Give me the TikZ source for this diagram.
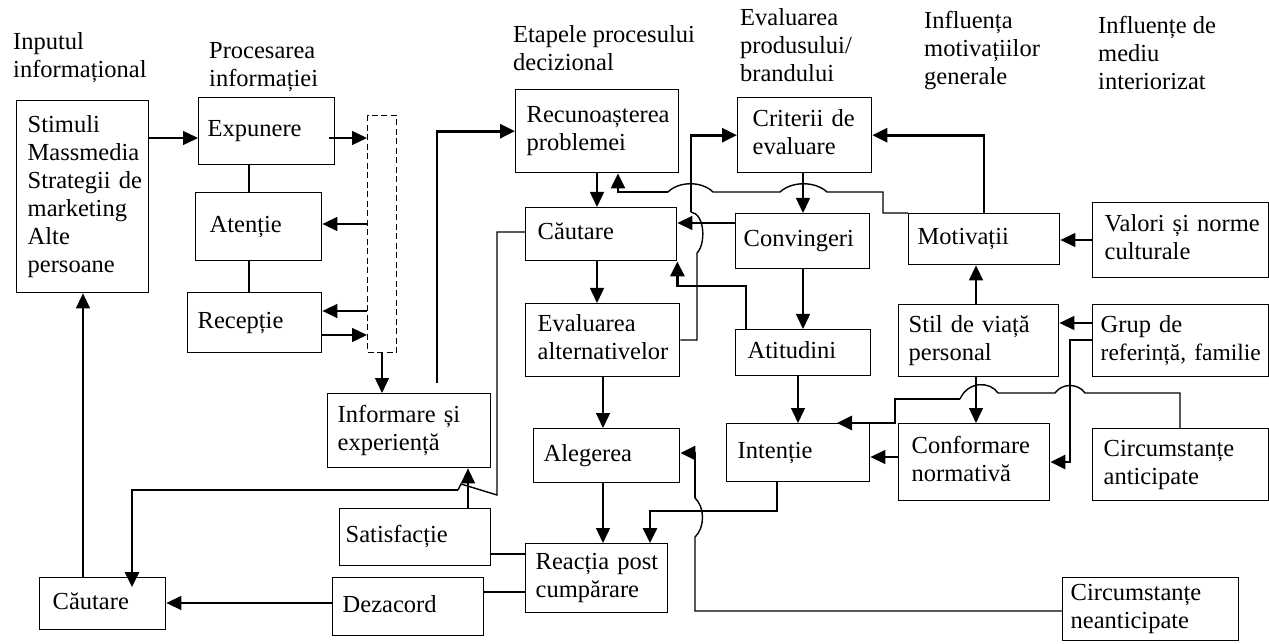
\documentclass[tikz,border=0pt]{standalone}
\usepackage{fontspec}
\setmainfont{Liberation Serif}
\usetikzlibrary{arrows.meta,calc}

% box: name, x1, y1, x2, y2 (pixel grid, y downwards), left padding, text
\newcommand\mkbox[7]{%
  \pgfmathsetmacro\bxw{#4-#2}%
  \pgfmathsetmacro\bxh{#5-#3}%
  \pgfmathsetmacro\bxt{#4-#2-2*#6}%
  \node[box, minimum width=\bxw pt, minimum height=\bxh pt,
        text width=\bxt pt, inner xsep=#6pt] (#1) at (#2,#3) {\strut#7\strut};%
}

\begin{document}
\begin{tikzpicture}[x=1pt,y=-1pt,
  every node/.style={font=\fontsize{24.5}{28}\selectfont},
  box/.style={draw, line width=1.4pt, anchor=north west, align=left, inner ysep=0pt},
  hd/.style={anchor=north west, inner sep=0pt, align=left},
  ln/.style={line width=1.4pt},
  tk/.style={line width=2.9pt},
  arr/.style={-{Triangle[length=15pt,width=14pt]}}]
\useasboundingbox (0,0) rectangle (1269,644);

% column headings
\node[hd] (h1) at (13,29.4)   {\strut Inputul\\informațional};
\node[hd] (h2) at (209,38.4)  {\strut Procesarea\\informației};
\node[hd] (h3) at (513,22.4)  {\strut Etapele~procesului\\decizional};
\node[hd] (h4) at (740,5.4)   {\strut Evaluarea\\produsului/\\brandului};
\node[hd] (h5) at (924,8.4)   {\strut Influența\\motivațiilor\\generale};
\node[hd] (h6) at (1098,13.4) {\strut Influențe~de\\mediu\\interiorizat};

% informational input and processing
\mkbox{stim}{16}{100}{148}{292}{11}{Stimuli\\Massmedia\\Strategii~de\\marketing\\Alte\\persoane}
\mkbox{expu}{198}{97}{334}{164}{9}{Expunere}
\mkbox{aten}{195}{192}{321}{260}{14}{Atenție}
\mkbox{rece}{187}{292}{321}{352}{10}{Recepție}
\node[draw, dash pattern=on 6pt off 3.5pt, line width=1.3pt, anchor=north west,
      minimum width=29pt, minimum height=237pt, inner sep=0pt] (buf) at (367,115) {};
\mkbox{info}{327}{393}{490}{467}{10}{Informare~și\\experiență}
\mkbox{satis}{339}{508}{490}{565}{6}{Satisfacție}
\mkbox{deza}{332}{577}{483}{635}{10}{Dezacord}
\mkbox{caut2}{39}{577}{165}{629}{13}{Căutare}

% decision process stages
\mkbox{recu}{515}{89}{678}{172}{11}{Recunoașterea\\problemei}
\mkbox{caut}{525}{207}{676}{260}{12}{Căutare}
\mkbox{eval}{525}{303}{679}{376}{12}{Evaluarea\\alternativelor}
\mkbox{aleg}{533}{428}{679}{482}{10}{Alegerea}
\mkbox{reac}{525}{543}{667}{612}{10}{Reacția~post\\cumpărare}

% product / brand evaluation
\mkbox{crit}{737}{97}{871}{172}{15}{Criterii~de\\evaluare}
\mkbox{conv}{735}{213}{869}{268}{8}{Convingeri}
\mkbox{atit}{735}{329}{870}{375}{12}{Atitudini}
\mkbox{inte}{726}{423}{869}{481}{11}{Intenție}

% motivation and internalised environment
\mkbox{moti}{908}{213}{1059}{264}{9}{Motivații}
\mkbox{valo}{1092}{202}{1268}{277}{12}{Valori~și~norme\\culturale}
\mkbox{stil}{898}{304}{1058}{376}{10}{Stil~de~viață\\personal}
\mkbox{grup}{1092}{304}{1268}{376}{8}{Grup~de\\{\fontsize{23.5}{28}\selectfont referință,~familie}}
\mkbox{conf}{898}{423}{1049}{500}{13}{Conformare\\normativă}
\mkbox{cira}{1092}{428}{1268}{500}{11}{Circumstanțe\\anticipate}
\mkbox{cirn}{1062}{577}{1238}{640}{8}{Circumstanțe\\neanticipate}

% information processing links
\draw[ln,arr] (stim.east |- 0,138) -- (expu.west |- 0,138);
\draw[ln,arr] ($(expu.east |- 0,138)+(-6,0)$) -- (buf.west |- 0,138);
\draw[ln,arr] (buf.west |- 0,224) -- (aten.east |- 0,224);
\draw[ln,arr] (buf.west |- 0,311) -- (rece.east |- 0,311);
\draw[ln,arr] (rece.east |- 0,335) -- (buf.west |- 0,335);
\draw[ln] (249,0 |- expu.south) -- (249,0 |- aten.north);
\draw[ln] (249,0 |- aten.south) -- (249,0 |- rece.north);
\draw[ln,arr] (382,0 |- buf.south) -- (382,0 |- info.north);
\draw[tk,arr] ($(437,0 |- info.north)+(0,-10)$) |- (recu.west);

% decision stages
\draw[ln,arr] (597,0 |- recu.south) -- (597,0 |- caut.north);
\draw[ln,arr] (597,0 |- caut.south) -- (597,0 |- eval.north);
\draw[ln,arr] (603,0 |- eval.south) -- (603,0 |- aleg.north);
\draw[ln,arr] (603,0 |- aleg.south) -- (603,0 |- reac.north);

% post-purchase outcomes
\draw[ln] (reac.west |- 0,554) -- (satis.east |- 0,554);
\draw[ln] (reac.west |- 0,592) -- (deza.east |- 0,592);
\draw[ln,arr] (468,0 |- satis.north) -- (468,0 |- info.south);
\draw[ln,arr] (deza.west |- 0,603) -- (caut2.east |- 0,603);
\draw[ln,arr] (83,0 |- caut2.north) -- (83,0 |- stim.south);
\coordinate (jn) at (458,490);
\draw[ln] (caut.west |- 0,232) -| (497,495) -- (461,484) -- (jn);
\draw[tk,arr] (jn) -| ($(132,0 |- caut2.north)+(0,10)$);

% beliefs, attitudes, intention
\draw[ln,arr] (803,0 |- crit.south) -- (803,0 |- conv.north);
\draw[ln,arr] (803,0 |- conv.south) -- (803,0 |- atit.north);
\draw[ln,arr] (798,0 |- atit.south) -- (798,0 |- inte.north);
\draw[ln,arr] (conv.west |- 0,223) -- (caut.east |- 0,223);
\draw[tk,arr] (746,0 |- atit.north) -- (746,286) -| (caut.south east);

% alternatives evaluation feeding the criteria
\coordinate (ej) at (691,212);
\draw[ln] (eval.east |- 0,340) -| (697,253) .. controls (706,244) and (705,214) .. (ej);
\draw[tk,arr] (ej) |- (crit.west);

% motivation
\draw[tk,arr] (984,0 |- moti.north) |- (crit.east);
\coordinate (mj) at (668,192);
\draw[ln] (moti.north west) -| (883,192) -- (827,192)
  .. controls (815,181) and (792,181) .. (780,192) -- (713,192)
  .. controls (702,181) and (679,181) .. (mj);
\draw[line width=2.2pt,arr] (mj) -| (618,0 |- recu.south);
\draw[ln,arr] (valo.west |- 0,240) -- (moti.east |- 0,240);
\draw[ln,arr] (976,0 |- stil.north) -- (976,0 |- moti.south);
\draw[ln,arr] (grup.west |- 0,323) -- (stil.east |- 0,323);
\draw[tk,arr] (grup.west |- 0,340) -| (1070,462) -- (conf.east |- 0,462);
\draw[ln,arr] (976,0 |- stil.south) -- (976,0 |- conf.north);
\draw[ln,arr] (conf.west |- 0,457) -- (inte.east |- 0,457);

% anticipated circumstances
\coordinate (cj) at (960,399);
\draw[ln] (1180,0 |- cira.north) |- (1085,393)
  .. controls (1078,383) and (1062,383) .. (1055,393) -- (998,393)
  .. controls (990,381) and (968,381) .. (cj);
\draw[tk,arr] (cj) -| (895,423) -- (837,0 |- inte.north);

% intention to purchase reaction
\draw[tk,arr] (777,0 |- inte.south) |- (650,511) -- (650,0 |- reac.north);

% unanticipated circumstances
\coordinate (uj) at (695,498);
\draw[ln] (cirn.west |- 0,611) -| (695,537) .. controls (705,528) and (705,507) .. (uj);
\draw[tk,arr] (uj) |- (aleg.east |- 0,453);
\end{tikzpicture}
\end{document}
